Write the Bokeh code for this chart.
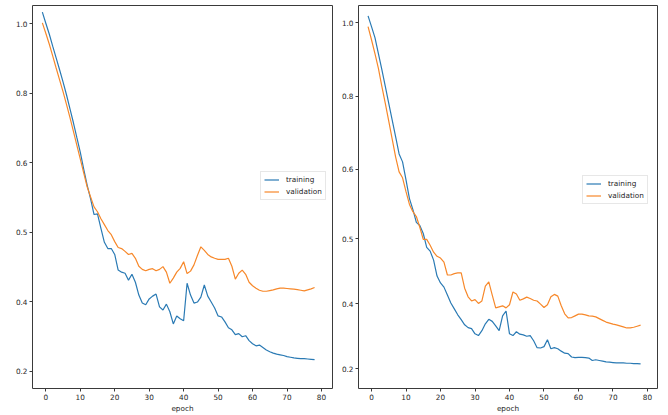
from bokeh.plotting import figure
from bokeh.layouts import row
from bokeh.models import Range1d, FixedTicker
from bokeh.embed import file_html
from bokeh.resources import INLINE

# epochs (x values)
epochs = list(range(-1, 79))

# y tick labels, as printed on the axes (evenly spaced on the drawn scale)
tick_labels = ["0.2", "0.4", "0.5", "0.6", "0.8", "1.0"]

# values below are in the drawn axis scale (0 = "0.2" tick, 1 = "1.0" tick)
left_training = [1.034, 1.002, 0.971, 0.936, 0.902, 0.868, 0.833, 0.796, 0.756, 0.716,
                 0.673, 0.631, 0.582, 0.536, 0.496, 0.451, 0.453, 0.411, 0.371, 0.353,
                 0.353, 0.336, 0.291, 0.285, 0.282, 0.262, 0.279, 0.256, 0.219, 0.196,
                 0.191, 0.208, 0.216, 0.222, 0.185, 0.176, 0.193, 0.171, 0.136, 0.159,
                 0.151, 0.145, 0.253, 0.219, 0.196, 0.199, 0.213, 0.248, 0.216, 0.199,
                 0.182, 0.159, 0.156, 0.142, 0.125, 0.119, 0.105, 0.108, 0.099, 0.102,
                 0.088, 0.079, 0.073, 0.075, 0.068, 0.061, 0.056, 0.052, 0.049, 0.047,
                 0.045, 0.042, 0.040, 0.038, 0.037, 0.036, 0.036, 0.035, 0.034, 0.033]
left_validation = [1.003, 0.973, 0.942, 0.908, 0.873, 0.839, 0.805, 0.768, 0.731, 0.691,
                   0.651, 0.611, 0.571, 0.531, 0.502, 0.473, 0.459, 0.439, 0.422, 0.405,
                   0.393, 0.373, 0.356, 0.353, 0.345, 0.336, 0.339, 0.325, 0.302, 0.293,
                   0.289, 0.293, 0.295, 0.289, 0.293, 0.301, 0.285, 0.253, 0.268, 0.285,
                   0.296, 0.315, 0.281, 0.288, 0.306, 0.333, 0.358, 0.348, 0.336, 0.329,
                   0.325, 0.322, 0.322, 0.322, 0.325, 0.302, 0.265, 0.282, 0.291, 0.279,
                   0.256, 0.246, 0.239, 0.233, 0.230, 0.230, 0.232, 0.234, 0.237, 0.239,
                   0.239, 0.238, 0.237, 0.236, 0.235, 0.233, 0.231, 0.234, 0.237, 0.241]
right_training = [1.020, 0.989, 0.957, 0.911, 0.865, 0.816, 0.767, 0.719, 0.670, 0.621,
                  0.598, 0.546, 0.492, 0.460, 0.423, 0.414, 0.391, 0.351, 0.340, 0.314,
                  0.268, 0.248, 0.236, 0.213, 0.190, 0.173, 0.156, 0.142, 0.127, 0.119,
                  0.116, 0.101, 0.096, 0.110, 0.130, 0.143, 0.137, 0.124, 0.110, 0.153,
                  0.167, 0.101, 0.096, 0.107, 0.100, 0.098, 0.094, 0.096, 0.081, 0.061,
                  0.060, 0.064, 0.084, 0.058, 0.061, 0.058, 0.051, 0.045, 0.044, 0.034,
                  0.032, 0.033, 0.033, 0.032, 0.031, 0.024, 0.026, 0.024, 0.022, 0.020,
                  0.019, 0.018, 0.017, 0.017, 0.017, 0.016, 0.016, 0.015, 0.015, 0.014]
right_validation = [0.989, 0.951, 0.911, 0.868, 0.816, 0.767, 0.716, 0.664, 0.612, 0.569,
                    0.552, 0.512, 0.475, 0.454, 0.440, 0.409, 0.374, 0.374, 0.357, 0.337,
                    0.325, 0.320, 0.308, 0.271, 0.271, 0.275, 0.277, 0.277, 0.233, 0.208,
                    0.196, 0.200, 0.189, 0.196, 0.239, 0.251, 0.213, 0.176, 0.179, 0.182,
                    0.176, 0.185, 0.222, 0.216, 0.198, 0.202, 0.207, 0.203, 0.198, 0.196,
                    0.187, 0.177, 0.185, 0.208, 0.215, 0.210, 0.182, 0.159, 0.147, 0.148,
                    0.153, 0.158, 0.158, 0.156, 0.153, 0.152, 0.150, 0.145, 0.140, 0.135,
                    0.132, 0.129, 0.127, 0.124, 0.121, 0.118, 0.118, 0.120, 0.123, 0.126]

x_ticks = [0, 10, 20, 30, 40, 50, 60, 70, 80]
left_tick_pos = [0.0, 0.2, 0.4, 0.6, 0.8, 1.0]
right_tick_pos = [0.0, 0.188, 0.376, 0.576, 0.788, 1.0]

BLUE = "#2a7ab4"
ORANGE = "#f7882a"
FONT = "DejaVu Sans"
FS = "7.3px"
TXT = "#262626"


def make_panel(width, borders, xr, yr, ytick_pos, train, val, legend_loc):
    top, right, bottom, left = borders
    p = figure(width=width, height=415, output_backend="svg", toolbar_location=None,
               x_range=Range1d(*xr), y_range=Range1d(*yr),
               min_border_top=top, min_border_right=right,
               min_border_bottom=bottom, min_border_left=left)
    p.line(epochs, train, color=BLUE, line_width=1.2, legend_label="training")
    p.line(epochs, val, color=ORANGE, line_width=1.2, legend_label="validation")
    p.grid.visible = False
    p.outline_line_color = "#3a3a3a"
    p.outline_line_width = 1
    p.background_fill_color = "white"
    p.border_fill_color = "white"

    p.xaxis.ticker = FixedTicker(ticks=x_ticks)
    p.yaxis.ticker = FixedTicker(ticks=ytick_pos)
    p.yaxis.major_label_overrides = {pos: lab for pos, lab in zip(ytick_pos, tick_labels)}
    p.xaxis.axis_label = "epoch"
    for ax in (p.xaxis[0], p.yaxis[0]):
        ax.axis_line_color = None
        ax.major_tick_out = 3
        ax.major_tick_in = 0
        ax.major_tick_line_color = "#3a3a3a"
        ax.minor_tick_line_color = None
        ax.major_label_standoff = 2
        ax.major_label_text_font = FONT
        ax.major_label_text_font_size = FS
        ax.major_label_text_color = TXT
        ax.axis_label_text_font = FONT
        ax.axis_label_text_font_size = FS
        ax.axis_label_text_font_style = "normal"
        ax.axis_label_text_color = TXT
        ax.axis_label_standoff = 1

    lg = p.legend[0]
    lg.location = legend_loc
    lg.label_text_font = FONT
    lg.label_text_font_size = FS
    lg.label_text_color = TXT
    lg.glyph_width = 15
    lg.glyph_height = 9
    lg.label_height = 9
    lg.label_standoff = 7
    lg.spacing = 3
    lg.padding = 3
    lg.margin = 0
    lg.border_line_color = "#d0d0d0"
    lg.border_line_width = 1
    lg.background_fill_alpha = 0.9
    return p


p1 = make_panel(338, (5, 6, 24, 32), (-3.86, 83.2), (-0.05, 1.053),
                left_tick_pos, left_training, left_validation, (228, 188))
p2 = make_panel(330, (3, 11, 27, 20), (-3.77, 82.9), (-0.057, 1.050),
                right_tick_pos, right_training, right_validation, (224, 184))

layout = row(p1, p2)
open("out.html", "w").write(file_html(layout, INLINE))
